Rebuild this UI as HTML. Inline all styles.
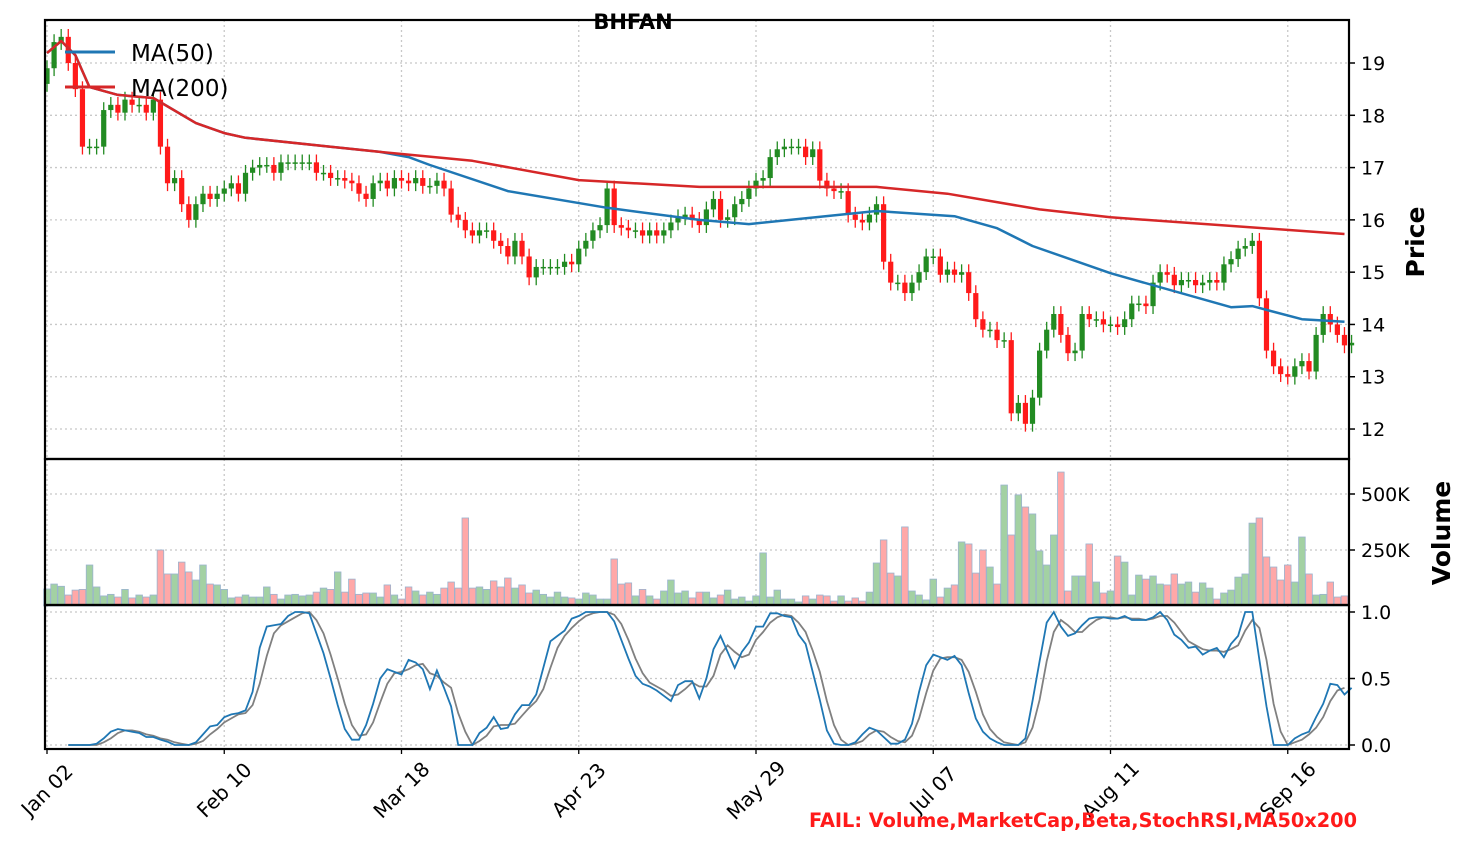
<!DOCTYPE html>
<html><head><meta charset="utf-8"><style>
html,body{margin:0;padding:0;background:#fff;}
svg{display:block;font-family:"DejaVu Sans","Liberation Sans",sans-serif;}
</style></head><body>
<svg id="chart" width="1472" height="855" viewBox="0 0 1472 855" xmlns="http://www.w3.org/2000/svg">
<rect width="1472" height="855" fill="#fff"/>
<g id="grid"></g>
<g id="vol"></g>
<g id="candles"></g>
<g id="mas"></g>
<g id="stoch"></g>
<g id="frames"></g>
<g id="axes"></g>
<text x="633" y="29" text-anchor="middle" font-size="21" font-weight="bold">BHFAN</text>
<g>
<line x1="65" y1="52" x2="115" y2="52" stroke="#1f77b4" stroke-width="3"/>
<text x="131" y="61" font-size="23">MA(50)</text>
<line x1="65" y1="87" x2="115" y2="87" stroke="#d62728" stroke-width="3"/>
<text x="131" y="96" font-size="23">MA(200)</text>
</g>
<text x="809" y="827" font-size="19.3" font-weight="bold" fill="#ff1a1a">FAIL: Volume,MarketCap,Beta,StochRSI,MA50x200</text>
</svg>
<script>
const closes=[18.9,19.4,19.5,19.0,18.5,17.4,17.4,17.4,18.1,18.2,18.05,18.3,18.2,18.2,18.05,18.3,17.4,16.7,16.8,16.3,16.0,16.3,16.5,16.4,16.5,16.6,16.7,16.5,16.9,17.0,17.05,17.05,16.9,17.1,17.1,17.1,17.1,17.1,16.9,16.9,16.8,16.8,16.75,16.7,16.5,16.4,16.7,16.75,16.6,16.8,16.75,16.7,16.8,16.65,16.65,16.75,16.6,16.1,16.0,15.8,15.7,15.8,15.8,15.6,15.5,15.3,15.6,15.3,14.9,15.1,15.1,15.1,15.1,15.2,15.15,15.45,15.6,15.8,15.9,16.6,15.9,15.85,15.8,15.8,15.7,15.8,15.7,15.8,15.95,16.05,16.1,16.0,15.9,16.2,16.4,16.0,16.05,16.3,16.4,16.6,16.75,16.8,17.2,17.35,17.4,17.4,17.4,17.2,17.35,16.75,16.6,16.55,16.55,16.1,16.0,15.95,16.1,16.3,15.2,14.8,14.8,14.6,14.8,15.0,15.3,15.3,14.95,15.05,14.95,15.0,14.6,14.1,13.9,13.9,13.7,13.7,12.3,12.5,12.1,12.6,13.5,13.9,14.2,13.8,13.45,13.5,14.2,14.1,14.1,14.0,14.0,13.95,14.1,14.4,14.4,14.35,14.8,15.0,14.95,14.75,14.85,14.85,14.75,14.8,14.85,14.8,15.15,15.25,15.45,15.5,15.6,14.5,13.5,13.2,13.05,13.0,13.2,13.3,13.1,13.8,14.2,14.0,13.8,13.6,13.65];
const volumes=[76,98,88,49,71,74,183,85,45,52,40,74,36,49,40,49,250,143,143,196,152,116,183,98,94,74,36,40,49,40,40,85,52,31,49,52,45,49,62,80,74,152,62,120,52,58,58,40,94,49,31,85,67,49,62,52,80,107,80,393,80,85,74,112,85,125,80,94,58,71,52,40,62,40,36,31,58,49,31,31,210,98,103,45,74,45,31,67,116,58,67,36,62,62,36,49,71,31,40,22,45,237,40,71,31,31,18,45,31,49,45,22,45,22,36,22,62,192,295,147,134,353,67,49,27,120,40,80,94,286,277,147,250,174,98,540,317,496,442,411,246,183,317,598,67,134,134,277,107,58,67,223,196,49,138,120,134,98,94,143,98,107,62,103,80,31,58,71,129,143,370,393,219,174,116,183,107,308,143,49,52,107,40,45];
const stochStart=3;
const stochK=[0,0,0,0,0.01,0.05,0.1,0.12,0.11,0.1,0.09,0.06,0.06,0.04,0.025,0,0,0,0.02,0.08,0.14,0.15,0.21,0.23,0.24,0.26,0.4,0.73,0.89,0.9,0.91,0.97,1,1,0.99,0.84,0.69,0.5,0.3,0.12,0.04,0.04,0.15,0.31,0.5,0.57,0.55,0.53,0.64,0.62,0.57,0.42,0.56,0.43,0.29,0,0,0,0.09,0.13,0.21,0.12,0.13,0.23,0.3,0.3,0.38,0.58,0.78,0.82,0.86,0.95,0.97,1,1,1,1,0.93,0.79,0.65,0.52,0.46,0.44,0.41,0.37,0.33,0.45,0.48,0.48,0.35,0.5,0.72,0.82,0.7,0.58,0.7,0.77,0.89,0.89,0.99,0.99,0.97,0.96,0.83,0.76,0.55,0.34,0.11,0.01,0,0,0.02,0.08,0.13,0.11,0.06,0.01,0.01,0.04,0.16,0.4,0.6,0.68,0.66,0.64,0.67,0.6,0.39,0.2,0.1,0.05,0.02,0,0,0,0.05,0.33,0.63,0.92,1,0.89,0.82,0.84,0.9,0.95,0.96,0.96,0.95,0.95,0.97,0.94,0.94,0.94,0.96,1,0.94,0.83,0.79,0.73,0.74,0.68,0.71,0.73,0.66,0.76,0.82,1,1,0.64,0.29,0,0,0,0.05,0.08,0.1,0.21,0.31,0.46,0.45,0.38,0.43];
const stochD=[0,0,0,0,0,0.02,0.05,0.09,0.11,0.11,0.1,0.08,0.07,0.05,0.04,0.02,0.01,0,0.01,0.03,0.08,0.12,0.17,0.2,0.23,0.24,0.3,0.46,0.67,0.84,0.9,0.93,0.96,0.99,1,0.94,0.84,0.68,0.5,0.31,0.15,0.07,0.08,0.17,0.32,0.46,0.54,0.55,0.57,0.6,0.61,0.54,0.52,0.47,0.43,0.24,0.1,0,0.03,0.07,0.14,0.15,0.15,0.16,0.22,0.28,0.33,0.42,0.58,0.73,0.82,0.88,0.93,0.97,0.99,1,1,0.98,0.91,0.79,0.65,0.54,0.47,0.44,0.41,0.37,0.38,0.42,0.47,0.44,0.44,0.52,0.68,0.75,0.7,0.66,0.68,0.79,0.85,0.92,0.96,0.98,0.97,0.92,0.85,0.71,0.55,0.33,0.15,0.04,0,0.01,0.03,0.08,0.11,0.1,0.06,0.03,0.02,0.07,0.2,0.39,0.56,0.65,0.66,0.66,0.64,0.55,0.4,0.23,0.12,0.06,0.02,0.01,0,0.02,0.13,0.34,0.63,0.85,0.94,0.9,0.85,0.85,0.9,0.94,0.96,0.96,0.95,0.96,0.95,0.95,0.94,0.95,0.97,0.97,0.92,0.85,0.78,0.75,0.72,0.71,0.71,0.7,0.72,0.75,0.86,0.94,0.88,0.64,0.31,0.1,0,0.02,0.04,0.08,0.13,0.21,0.33,0.41,0.43];
const ma200Idx=[0,2,4,6,10,15,21,25,28,40,47,60,75,92,117,127,140,150,183];
const ma200Val=[19.19,19.42,19.15,18.54,18.39,18.33,17.85,17.66,17.57,17.4,17.3,17.13,16.76,16.63,16.63,16.5,16.2,16.05,15.73];
const ma50Idx=[0,2,4,6,10,15,21,25,28,40,47,51,54,65,79,92,99,117,128,134,139,150,167,170,177,183];
const ma50Val=[19.19,19.42,19.15,18.54,18.39,18.33,17.85,17.66,17.57,17.4,17.3,17.2,17.05,16.55,16.23,16.0,15.92,16.17,16.07,15.84,15.5,14.98,14.33,14.35,14.1,14.05];
const priceTicks=[12,13,14,15,16,17,18,19];
const volTicks=[250,500];
const volTickLabels=["250K","500K"];
const stochTicks=[0,0.5,1];
const stochTickLabels=["0.0","0.5","1.0"];
const dateIdx=[0,25,50,75,100,125,150,175];
const dateLabels=["Jan 02","Feb 10","Mar 18","Apr 23","May 29","Jul 07","Aug 11","Sep 16"];

const NS="http://www.w3.org/2000/svg";
const L=45,R=1349,T1=20,B1=459,B2=605,B3=749;
const xS=i=>47+i*7.09;
const yP=p=>63+(19-p)*52.29;
const yV=v=>606-v*0.224;
const yS=s=>745-s*133;
function mk(tag,attrs,parent){const e=document.createElementNS(NS,tag);for(const k in attrs)e.setAttribute(k,attrs[k]);parent.appendChild(e);return e;}
const gGrid=document.getElementById('grid'),gVol=document.getElementById('vol'),gC=document.getElementById('candles'),gMA=document.getElementById('mas'),gS=document.getElementById('stoch'),gF=document.getElementById('frames'),gA=document.getElementById('axes');
const gridStyle={stroke:'#c8c8c8','stroke-width':1.3,'stroke-dasharray':'2,3'};
dateIdx.forEach((d,k)=>{const x=xS(d);
 [[T1,B1],[B1,B2],[B2,B3]].forEach(([a,b])=>{const l=mk('line',Object.assign({x1:x,x2:x,y1:a,y2:b},gridStyle),gGrid);
 
 });
 const tk=mk('line',{x1:x,x2:x,y1:B3,y2:B3+5,stroke:'#000','stroke-width':1.3},gA);
 
 
 const cy=B3+41;
 const t=mk('text',{x:x,y:cy,'font-size':20,'text-anchor':'middle','dominant-baseline':'central',transform:`rotate(-45 ${x} ${cy})`},gA);
 t.textContent=dateLabels[k];
 
 
});
priceTicks.forEach(p=>{const y=yP(p);
 const g=mk('line',Object.assign({x1:L,x2:R,y1:y,y2:y},gridStyle),gGrid);
 
 
 const tk=mk('line',{x1:R,x2:R+6,y1:y,y2:y,stroke:'#000','stroke-width':1.5},gA);
 
 
 const t=mk('text',{x:R+12,y:y+7,'font-size':19},gA);t.textContent=String(p);
 
 
});
volTicks.forEach((v,k)=>{const y=yV(v);
 const g=mk('line',Object.assign({x1:L,x2:R,y1:y,y2:y},gridStyle),gGrid);
 
 
 const tk=mk('line',{x1:R,x2:R+6,y1:y,y2:y,stroke:'#000','stroke-width':1.5},gA);
 
 
 const t=mk('text',{x:R+12,y:y+7,'font-size':19},gA);t.textContent=volTickLabels[k];
 
 
});
stochTicks.forEach((s,k)=>{const y=yS(s);
 const g=mk('line',Object.assign({x1:L,x2:R,y1:y,y2:y},gridStyle),gGrid);
 
 
 const tk=mk('line',{x1:R,x2:R+6,y1:y,y2:y,stroke:'#000','stroke-width':1.5},gA);
 
 
 const t=mk('text',{x:R+12,y:y+7,'font-size':19},gA);t.textContent=stochTickLabels[k];
 
 
});
const pt=mk('text',{x:1424,y:242,'font-size':25,'font-weight':'bold','text-anchor':'middle',transform:'rotate(-90 1424 242)'},gA);pt.textContent='Price';


const vt=mk('text',{x:1450,y:533,'font-size':25,'font-weight':'bold','text-anchor':'middle',transform:'rotate(-90 1450 533)'},gA);vt.textContent='Volume';


closes.forEach((c,i)=>{
 const o=i===0?18.6:closes[i-1];
 const up=c>=o;const col=up?'#228b22':'#ff1a1a';
 const x=xS(i);const hi=Math.max(o,c),lo=Math.min(o,c);
 const w=mk('line',{x1:x,x2:x,y1:yP(hi+0.15),y2:yP(lo-0.15),stroke:col,'stroke-width':1.3},gC);
 
 
 const h=Math.max(1.5,yP(lo)-yP(hi));
 const b=mk('rect',{x:x-2.6,y:yP(hi),width:5.2,height:h,fill:col},gC);
 
 
 if(i<volumes.length){const v=volumes[i];
  const r=mk('rect',{x:x-3.3,y:yV(v),width:6.6,height:606-yV(v),fill:up?'#a3d1a3':'#ffa8a8',stroke:'#9ab3cf','stroke-width':0.8},gVol);
  
  }
});
function poly(idx,vals,col,name){const d=idx.map((k,j)=>`${j?'L':'M'}${xS(k).toFixed(1)},${yP(vals[j]).toFixed(1)}`).join(' ');
 const p=mk('path',{d:d,fill:'none',stroke:col,'stroke-width':2.5,'stroke-linejoin':'round'},gMA);
 
 }
poly(ma50Idx,ma50Val,'#1f77b4','ma50-line');
poly(ma200Idx,ma200Val,'#d62728','ma200-line');
function sline(arr,col,name){const d=arr.map((v,j)=>`${j?'L':'M'}${xS(j+stochStart).toFixed(1)},${yS(v).toFixed(1)}`).join(' ');
 const p=mk('path',{d:d,fill:'none',stroke:col,'stroke-width':1.8},gS);
 
 }
sline(stochD,'#808080','stoch-d-line');
sline(stochK,'#1f77b4','stoch-k-line');
[[T1,B1,'price-panel'],[B1,B2,'volume-panel'],[B2,B3,'stoch-panel']].forEach(([a,b,n])=>{
 const r=mk('rect',{x:L,y:a,width:R-L,height:b-a,fill:'none',stroke:'#000','stroke-width':2.2},gF);
 
 });
</script>
</body></html>
